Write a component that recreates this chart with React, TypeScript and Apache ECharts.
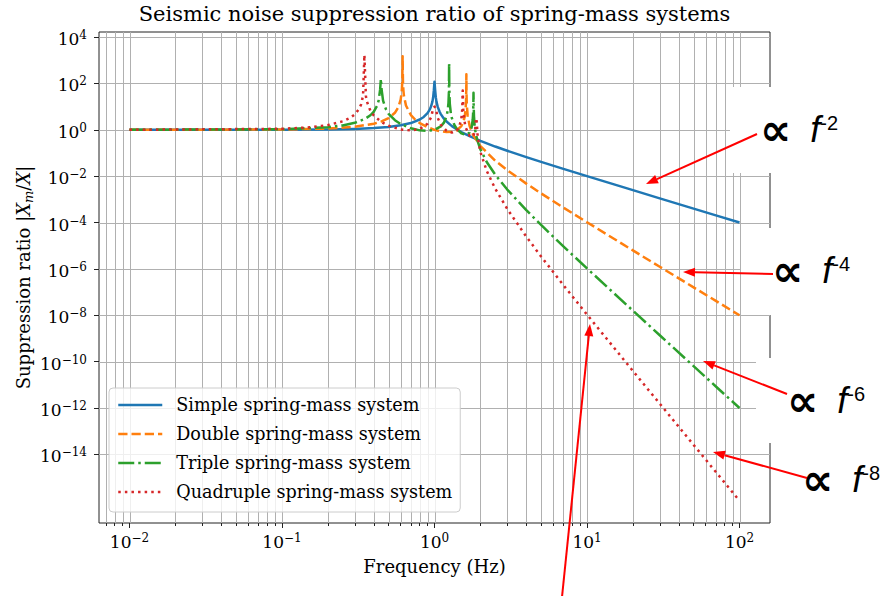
import React, { useEffect, useRef } from 'react';
import * as echarts from 'echarts';

// ---------- data (frequency in Hz, suppression ratio |Xm/X|) ----------
const seriesNames = [
  'Simple spring-mass system',
  'Double spring-mass system',
  'Triple spring-mass system',
  'Quadruple spring-mass system',
];

const freqSimple = [0.01, 0.03, 0.1, 0.2, 0.3, 0.4, 0.5, 0.6, 0.7, 0.8, 0.85, 0.9, 0.93, 0.95, 0.97, 0.98, 0.99, 1.0, 1.01, 1.02, 1.03, 1.05, 1.08, 1.1, 1.15, 1.2, 1.3, 1.5, 1.7, 2, 2.5, 3, 4, 5, 7, 10, 20, 30, 50, 70, 100];
const valSimple = [1, 1.001, 1.01, 1.042, 1.099, 1.19, 1.333, 1.563, 1.96, 2.78, 3.6, 5.26, 7.4, 10.3, 16.9, 25.3, 50, 120, 50, 25, 16.4, 9.76, 6.0, 4.76, 3.1, 2.27, 1.45, 0.8, 0.53, 0.333, 0.19, 0.125, 0.0667, 0.0417, 0.0208, 0.0101, 0.0025, 0.00111, 0.0004, 0.000204, 0.0001];

const freqDouble = [0.01, 0.1, 0.2, 0.3, 0.4, 0.45, 0.5, 0.55, 0.58, 0.6, 0.61, 0.615, 0.618, 0.621, 0.625, 0.63, 0.65, 0.7, 0.75, 0.8, 0.9, 1.0, 1.1, 1.2, 1.3, 1.4, 1.5, 1.55, 1.58, 1.6, 1.61, 1.615, 1.618, 1.621, 1.625, 1.63, 1.65, 1.7, 1.8, 2.0, 2.5, 3, 4, 5, 7, 10, 20, 30, 50, 70, 100];
const valDouble = [1, 1.031, 1.134, 1.355, 1.833, 2.307, 3.2, 5.43, 9.6, 20.2, 45, 119, 1500, 122, 51.8, 30.1, 11.2, 4.35, 2.69, 1.96, 1.292, 1.0, 0.858, 0.802, 0.824, 0.963, 1.455, 2.3, 3.89, 7.91, 17.5, 45.8, 250, 46.4, 19.6, 11.3, 4.09, 1.466, 0.5626, 0.2, 0.0469, 0.01818, 0.004785, 0.001815, 4.43e-4, 1.031e-4, 6.3e-6, 1.239e-6, 1.602e-7, 4.17e-8, 1.0e-8];

const freqTriple = [0.01, 0.1, 0.2, 0.25, 0.3, 0.35, 0.38, 0.4, 0.42, 0.43, 0.44, 0.445, 0.45, 0.46, 0.48, 0.5, 0.55, 0.6, 0.7, 0.8, 0.9, 1.0, 1.1, 1.15, 1.2, 1.22, 1.235, 1.243, 1.247, 1.251, 1.26, 1.28, 1.3, 1.35, 1.4, 1.5, 1.6, 1.65, 1.7, 1.75, 1.78, 1.79, 1.797, 1.802, 1.807, 1.815, 1.83, 1.85, 1.9, 2.0, 2.2, 2.5, 3, 4, 5, 7, 10, 20, 30, 50, 70, 100];
const valTriple = [1, 1.063, 1.302, 1.552, 2.001, 2.957, 4.258, 6.1, 10.9, 18.1, 53.9, 160, 54.7, 18.1, 7.74, 4.92, 2.596, 1.79, 1.167, 0.9486, 0.9001, 1.0, 1.406, 1.988, 3.876, 6.62, 14.7, 44.1, 800, 43.3, 13.3, 5.17, 3.188, 1.615, 1.089, 0.703, 0.613, 0.6467, 0.7795, 1.255, 2.661, 4.716, 11.1, 40, 10.4, 3.93, 1.736, 0.946, 0.3929, 0.1429, 0.04117, 0.01172, 0.002653, 3.435e-4, 7.906e-5, 9.44e-6, 1.052e-6, 1.582e-8, 1.379e-9, 6.413e-11, 8.509e-12, 1.0e-12];

const freqQuad = [0.01, 0.1, 0.15, 0.2, 0.25, 0.28, 0.3, 0.32, 0.33, 0.34, 0.347, 0.355, 0.36, 0.38, 0.4, 0.45, 0.5, 0.6, 0.7, 0.8, 0.9, 0.95, 0.98, 1.0, 1.02, 1.05, 1.1, 1.2, 1.3, 1.4, 1.45, 1.5, 1.52, 1.532, 1.545, 1.56, 1.6, 1.7, 1.75, 1.8, 1.85, 1.87, 1.879, 1.89, 1.92, 2.0, 2.2, 2.5, 3, 4, 5, 7, 10, 20, 30, 50, 70, 100];
const valQuad = [1, 1.109, 1.278, 1.604, 2.315, 3.28, 4.62, 7.94, 12.5, 29.6, 1700, 28.0, 16.9, 6.58, 4.1, 2.144, 1.497, 1.035, 0.9395, 1.083, 1.824, 3.454, 8.43, 10, 8.26, 3.285, 1.655, 0.9075, 0.7627, 0.93, 1.308, 3.012, 7.73, 50, 6.96, 3.18, 1.271, 0.5483, 0.491, 0.5489, 1.061, 2.93, 3.2, 2.3, 0.505, 0.1111, 0.01693, 0.00293, 3.87e-4, 2.466e-5, 3.444e-6, 2.009e-7, 1.074e-8, 3.975e-11, 1.536e-12, 2.567e-14, 1.737e-15, 1.0e-16];

// tick labels (decade exponents)
const xTickExponents = [-2, -1, 0, 1, 2];
const yTickExponents = [4, 2, 0, -2, -4, -6, -8, -10, -12, -14];
const minorMultipliers = [2, 3, 4, 5, 6, 7, 8, 9];

// annotations
const slopeLabels = ['-2', '-4', '-6', '-8'];

// ---------- layout / style constants ----------
const X_MIN = -2.2;
const X_MAX = 2.2;
const Y_MIN = -16.96;
const Y_MAX = 4.22;
const GRID_COLOR = '#b0b0b0';
const AXIS_COLOR = '#222222';
const COLORS = ['#1f77b4', '#ff7f0e', '#2ca02c', '#d62728'];
const DASHES: any[] = ['solid', [9.25, 4], [16, 4, 2.5, 4], [2.5, 4.1]];
const SERIF = 'DejaVu Serif';

const toLogPairs = (fs: number[], vs: number[]) =>
  fs.map((f, i) => [Math.log10(f), Math.log10(vs[i])]);

const supText = (v: number) => {
  const n = Math.round(v);
  return n < 0 ? '\u2212' + Math.abs(n) : String(n);
};
const expFormatter = (v: number) => `{b|10}{s|${supText(v)}}`;
const tickRich = {
  b: { fontFamily: SERIF, fontSize: 17, lineHeight: 20, color: '#000' },
  s: { fontFamily: SERIF, fontSize: 12, lineHeight: 12, verticalAlign: 'top', color: '#000' },
};

function arrow(x1: number, y1: number, x2: number, y2: number) {
  const ang = Math.atan2(y2 - y1, x2 - x1);
  const hl = 12;
  const hw = 4.5;
  const bx = x2 - hl * Math.cos(ang);
  const by = y2 - hl * Math.sin(ang);
  const px = -Math.sin(ang) * hw;
  const py = Math.cos(ang) * hw;
  return [
    { type: 'line', z: 101, silent: true, shape: { x1, y1, x2: bx, y2: by }, style: { stroke: '#ff0000', lineWidth: 2 } },
    { type: 'polygon', z: 101, silent: true, shape: { points: [[x2, y2], [bx + px, by + py], [bx - px, by - py]] }, style: { fill: '#ff0000' } },
  ];
}

function slopeText(x: number, y: number, label: string) {
  return {
    type: 'text',
    z: 102,
    silent: true,
    x,
    y,
    style: {
      text: `{p|\u221d}{f|f}{s|${label}}`,
      align: 'left',
      verticalAlign: 'middle',
      textAlign: 'left',
      textVerticalAlign: 'middle',
      rich: {
        p: { fontFamily: 'DejaVu Sans', fontWeight: 'bold', fontSize: 44, lineHeight: 32, fill: '#000', color: '#000', padding: [0, 19, 0, 0] },
        f: { fontFamily: 'Liberation Sans', fontStyle: 'italic', fontSize: 36, lineHeight: 32, fill: '#000', color: '#000' },
        s: { fontFamily: 'Liberation Sans', fontSize: 20, lineHeight: 18, verticalAlign: 'top', fill: '#000', color: '#000' },
      },
    },
  };
}

export default function App() {
  const ref = useRef<HTMLDivElement>(null);

  useEffect(() => {
    const el = ref.current;
    if (!el) return;
    const chart = echarts.init(el, null, { renderer: 'svg' });

    const xMinor: number[] = [];
    for (let n = -3; n <= 2; n++) {
      for (const k of minorMultipliers) {
        const v = n + Math.log10(k);
        if (v > X_MIN && v < X_MAX) xMinor.push(v);
      }
    }
    const vGrid = [...xTickExponents, ...xMinor];

    const datasets = [
      toLogPairs(freqSimple, valSimple),
      toLogPairs(freqDouble, valDouble),
      toLogPairs(freqTriple, valTriple),
      toLogPairs(freqQuad, valQuad),
    ];

    const curveSeries = datasets.map((d, i) => ({
      type: 'line',
      name: seriesNames[i],
      data: d,
      z: 3 + i,
      symbol: 'none',
      showSymbol: false,
      silent: true,
      clip: true,
      color: COLORS[i],
      itemStyle: { color: COLORS[i] },
      lineStyle: { color: COLORS[i], width: 2.5, type: DASHES[i], cap: 'butt', join: 'round' },
      emphasis: { disabled: true },
    }));

    const gridSeries = [
      {
        type: 'custom',
        z: 1,
        silent: true,
        data: vGrid.map((v) => [v, 0]),
        renderItem: (params: any, api: any) => {
          const cs = params.coordSys;
          const p = api.coord([api.value(0), 0]);
          const x = Math.round(p[0]) + 0.5;
          return { type: 'line', shape: { x1: x, y1: cs.y, x2: x, y2: cs.y + cs.height }, style: { stroke: GRID_COLOR, lineWidth: 1 } };
        },
      },
      {
        type: 'custom',
        z: 1,
        silent: true,
        data: yTickExponents.map((v) => [X_MIN, v]),
        renderItem: (params: any, api: any) => {
          const cs = params.coordSys;
          const p = api.coord([X_MIN, api.value(1)]);
          const y = Math.round(p[1]) + 0.5;
          return { type: 'line', shape: { x1: cs.x, y1: y, x2: cs.x + cs.width, y2: y }, style: { stroke: GRID_COLOR, lineWidth: 1 } };
        },
      },
    ];

    const whiteBoxes = [
      [730, 87, 161, 86],
      [741, 228, 150, 87],
      [756, 358, 135, 85],
    ].map(([x, y, w, h]) => ({ type: 'rect', z: 100, silent: true, shape: { x, y, width: w, height: h }, style: { fill: '#ffffff' } }));

    const annotations = [
      ...arrow(757, 134, 646, 184),
      ...arrow(773, 274, 683, 272),
      ...arrow(787, 394, 703, 361),
      ...arrow(807, 478, 713, 452),
      ...arrow(562, 597, 590, 324),
      slopeText(760, 129, slopeLabels[0]),
      slopeText(772, 270, slopeLabels[1]),
      slopeText(787, 400, slopeLabels[2]),
      slopeText(802, 479, slopeLabels[3]),
    ];

    const option: any = {
      animation: false,
      backgroundColor: '#ffffff',
      textStyle: { fontFamily: SERIF },
      title: {
        text: 'Seismic noise suppression ratio of spring-mass systems',
        left: 434.5,
        top: 3,
        padding: 0,
        textAlign: 'center',
        textStyle: { fontFamily: SERIF, fontSize: 21, fontWeight: 'normal', color: '#000' },
      },
      grid: {
        left: 99,
        right: 121,
        top: 32,
        bottom: 73,
        show: true,
        borderColor: AXIS_COLOR,
        borderWidth: 1,
        backgroundColor: 'transparent',
        containLabel: false,
        outerBoundsMode: 'none',
      },
      legend: {
        data: seriesNames,
        orient: 'vertical',
        left: 109,
        top: 388,
        itemWidth: 44,
        itemHeight: 20,
        itemGap: 9,
        padding: [7, 8, 10, 8],
        backgroundColor: 'rgba(255,255,255,0.8)',
        borderColor: '#cccccc',
        borderWidth: 1,
        borderRadius: 4,
        selectedMode: false,
        itemStyle: { opacity: 0, borderWidth: 0 },
        lineStyle: { width: 2.5 },
        textStyle: { fontFamily: SERIF, fontSize: 17.6, lineHeight: 20, color: '#000', padding: [0, 0, 0, 9] },
      },
      xAxis: [
        {
          type: 'value',
          min: X_MIN,
          max: X_MAX,
          position: 'bottom',
          axisLine: { show: false, onZero: false },
          splitLine: { show: false },
          axisTick: { show: true, length: 5, customValues: xTickExponents, lineStyle: { color: AXIS_COLOR, width: 1 } },
          axisLabel: { show: true, customValues: xTickExponents, margin: 9, formatter: expFormatter, rich: tickRich },
          name: 'Frequency (Hz)',
          nameLocation: 'middle',
          nameGap: 34,
          nameMoveOverlap: false,
          nameTextStyle: { fontFamily: SERIF, fontSize: 18, color: '#000' },
        },
        {
          type: 'value',
          min: X_MIN,
          max: X_MAX,
          position: 'bottom',
          axisLine: { show: false, onZero: false },
          splitLine: { show: false },
          axisLabel: { show: false },
          axisTick: { show: true, length: 3, customValues: xMinor, lineStyle: { color: AXIS_COLOR, width: 1 } },
        },
      ],
      yAxis: {
        type: 'value',
        min: Y_MIN,
        max: Y_MAX,
        axisLine: { show: false, onZero: false },
        splitLine: { show: false },
        axisTick: { show: true, length: 5, customValues: yTickExponents, lineStyle: { color: AXIS_COLOR, width: 1 } },
        axisLabel: { show: true, customValues: yTickExponents, margin: 12, formatter: expFormatter, rich: tickRich, padding: [4, 0, 0, 0] },
        name: '{n|Suppression ratio |}{i|X}{m|m}{n|/}{i|X}{n||}',
        nameLocation: 'middle',
        nameRotate: 90,
        nameGap: 64,
        nameMoveOverlap: false,
        nameTextStyle: {
          rich: {
            n: { fontFamily: SERIF, fontSize: 18, lineHeight: 24, color: '#000' },
            i: { fontFamily: SERIF, fontSize: 18, fontStyle: 'italic', lineHeight: 24, color: '#000' },
            m: { fontFamily: SERIF, fontSize: 13, fontStyle: 'italic', lineHeight: 14, verticalAlign: 'bottom', color: '#000' },
          },
        },
      },
      series: [...gridSeries, ...curveSeries],
      graphic: { elements: [...whiteBoxes, ...annotations] },
    };

    chart.setOption(option);
    return () => chart.dispose();
  }, []);

  return (
    <div
      ref={ref}
      style={{ position: 'fixed', left: 0, top: 0, width: 891, height: 596, background: '#fff' }}
    />
  );
}
